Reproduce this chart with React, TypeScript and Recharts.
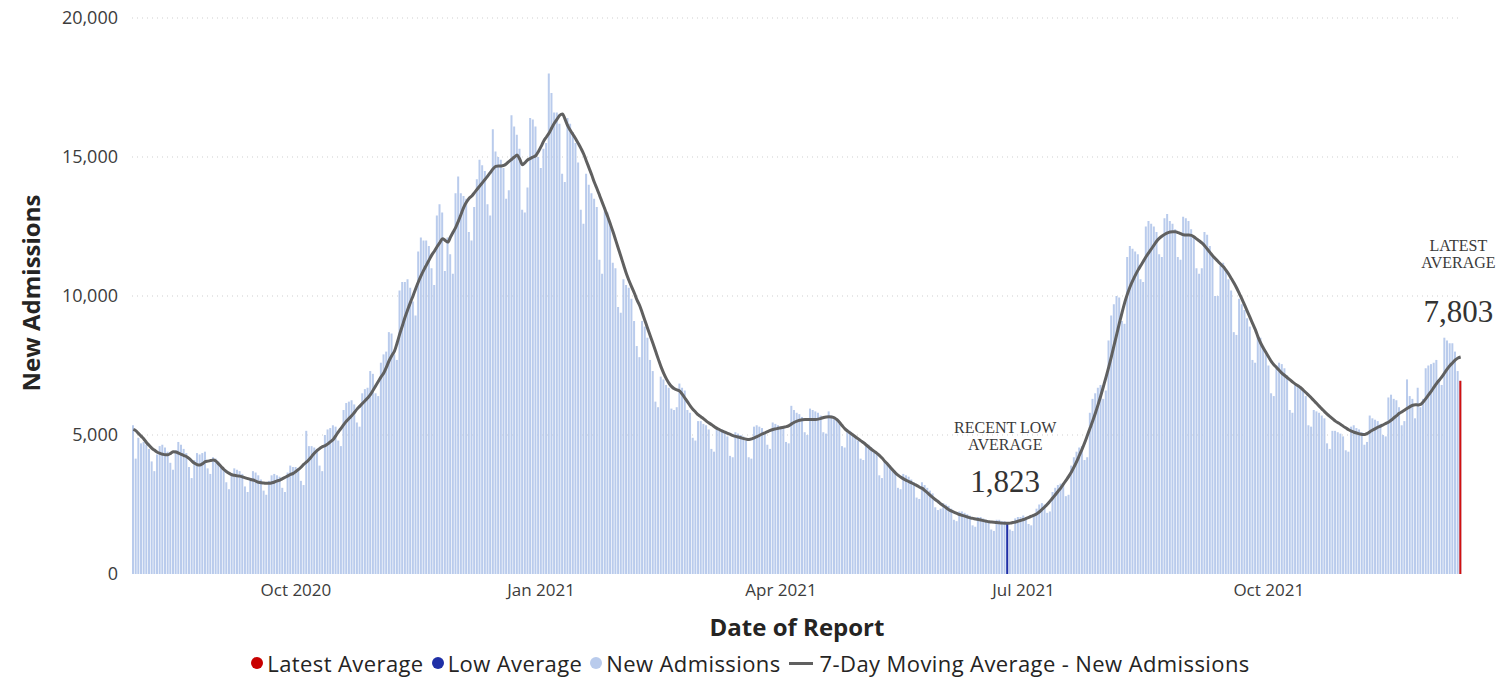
import React from "react";
import { ComposedChart, Bar, Line, XAxis, YAxis, CartesianGrid, LabelList, Label, Cell } from "recharts";

// new admissions per day, one array per month (Aug 2020 .. Dec 2021)
const aug20 = [5350, 4150, 4900, 4700, 4750, 4650, 4500, 4050, 3700, 4300, 4600, 4650, 4550, 4400, 4000, 3750, 4450, 4750, 4650, 4500, 4350, 3850, 3450, 4100, 4350, 4300, 4350, 4400, 3800, 3600, 4200];
const sep20 = [4150, 4050, 3900, 3750, 3300, 3050, 3600, 3800, 3750, 3700, 3600, 3150, 2950, 3450, 3700, 3650, 3550, 3400, 3000, 2850, 3350, 3550, 3600, 3550, 3500, 3100, 2950, 3650, 3900, 3850];
const oct20 = [3850, 3800, 3350, 3200, 5150, 4600, 4600, 4550, 4500, 3900, 3700, 5000, 5200, 5250, 5350, 5300, 4800, 4600, 5900, 6150, 6200, 6250, 6100, 5450, 5300, 6500, 6650, 6700, 7300, 7200, 6500];
const nov20 = [6400, 7600, 7900, 8000, 8700, 8650, 7900, 7700, 10200, 10500, 10500, 10600, 10300, 9800, 9300, 11600, 12100, 12000, 12000, 11800, 11000, 10400, 12900, 13300, 13000, 10900, 12100, 11500, 10800, 13700];
const dec20 = [14300, 13700, 13600, 13500, 12300, 12000, 13200, 14200, 14900, 14700, 14500, 13300, 12900, 16000, 15200, 15000, 14900, 14600, 13500, 13800, 16500, 16100, 15800, 15300, 13100, 13000, 13900, 16400, 16350, 16100, 15000];
const jan21 = [14600, 15300, 15500, 18000, 17300, 16600, 16600, 16200, 14400, 14100, 16400, 16200, 15900, 15500, 14800, 13100, 12600, 14400, 14000, 13700, 13500, 13200, 11300, 10800, 13200, 13000, 12600, 11200, 11000, 9600, 9400];
const feb21 = [10600, 10400, 10300, 9900, 9100, 8200, 7800, 9100, 8900, 8500, 7700, 7300, 6200, 6000, 7100, 7000, 6800, 6700, 5950, 5900, 6000, 6850, 6700, 6600, 5900, 5800, 4900, 4800];
const mar21 = [5500, 5500, 5400, 5350, 5200, 4500, 4400, 5250, 5200, 5200, 5100, 4950, 4250, 4200, 5100, 5050, 5000, 4950, 4800, 4200, 4150, 5300, 5350, 5300, 5250, 5100, 4650, 4500, 5450, 5400, 5350];
const apr21 = [5300, 5250, 4750, 4700, 6050, 5900, 5800, 5750, 5650, 5100, 5000, 5950, 5900, 5850, 5800, 5700, 5100, 5050, 5850, 5700, 5650, 5550, 5400, 4600, 4550, 5200, 5150, 5050, 4950, 4800];
const may21 = [4150, 4100, 4650, 4650, 4550, 4450, 4300, 3550, 3450, 4050, 4000, 3900, 3800, 3650, 3100, 3050, 3600, 3550, 3500, 3400, 3300, 2750, 2700, 3300, 3200, 3100, 3000, 2900, 2400, 2300, 2350];
const jun21 = [2550, 2500, 2450, 2350, 1950, 1900, 2250, 2250, 2200, 2150, 2100, 1750, 1700, 2050, 2050, 2000, 1950, 1900, 1600, 1550, 1950, 1950, 1900, 1900, 1850, 1600, 1550, 2000, 2050, 2050];
const jul21 = [2100, 2050, 1800, 1750, 2100, 2350, 2500, 2550, 2500, 2200, 2250, 2950, 3100, 3200, 3250, 3200, 2800, 2850, 3900, 4200, 4400, 4550, 4600, 4100, 4200, 5800, 6300, 6500, 6700, 6800, 6300];
const aug21 = [6600, 8400, 9300, 9700, 10000, 9950, 9100, 9000, 11400, 11800, 11700, 11600, 11500, 10600, 10500, 12500, 12700, 12600, 12500, 12300, 11500, 11400, 12800, 12950, 12700, 12600, 12400, 11400, 11300, 12850, 12800];
const sep21 = [12700, 12400, 12100, 11000, 10800, 11000, 12300, 12200, 11800, 11400, 10000, 10000, 11100, 11200, 10900, 10600, 10200, 8700, 8600, 9900, 9700, 9500, 9200, 8900, 7700, 7600, 8600, 8500, 8200, 7900];
const oct21 = [7500, 6500, 6400, 7500, 7600, 7550, 7400, 7150, 5900, 5800, 6800, 6800, 6700, 6600, 6400, 5350, 5300, 5900, 5850, 5800, 5700, 5600, 4700, 4500, 5150, 5150, 5100, 5050, 4950, 4450, 4400];
const nov21 = [5300, 5350, 5250, 5200, 5100, 4650, 4750, 5700, 5600, 5550, 5500, 5400, 5000, 4950, 6350, 6450, 6300, 6250, 6000, 5350, 5500, 7000, 6400, 6300, 5600, 6700, 6000, 6300, 7400, 7500];
const dec21 = [7550, 7600, 7700, 7000, 6800, 8500, 8400, 8300, 8300, 8000, 7300, 6950];

// 7-day moving average, same months
const avgAug20 = [5200, 5150, 5050, 4950, 4850, 4720, 4620, 4520, 4450, 4380, 4340, 4310, 4290, 4290, 4340, 4400, 4390, 4350, 4300, 4260, 4220, 4150, 4060, 3980, 3930, 3920, 3970, 4040, 4060, 4080, 4100];
const avgSep20 = [4060, 3960, 3860, 3760, 3680, 3620, 3570, 3550, 3530, 3520, 3490, 3460, 3430, 3400, 3380, 3340, 3300, 3280, 3270, 3260, 3260, 3280, 3310, 3350, 3380, 3430, 3480, 3530, 3580, 3620];
const avgOct20 = [3690, 3760, 3850, 3950, 4030, 4130, 4240, 4350, 4450, 4520, 4580, 4620, 4680, 4760, 4840, 4980, 5120, 5250, 5380, 5500, 5600, 5700, 5820, 5940, 6040, 6140, 6240, 6340, 6460, 6620, 6780];
const avgNov20 = [6940, 7100, 7240, 7450, 7680, 7860, 8020, 8320, 8650, 8950, 9250, 9520, 9780, 10020, 10280, 10520, 10740, 10940, 11120, 11300, 11480, 11620, 11780, 11920, 12060, 12000, 11940, 12120, 12300, 12480];
const avgDec20 = [12700, 12950, 13200, 13380, 13520, 13600, 13720, 13840, 13960, 14080, 14200, 14320, 14450, 14580, 14660, 14680, 14680, 14700, 14760, 14840, 14920, 15000, 15070, 14920, 14720, 14800, 14900, 14950, 15000, 15050, 15200];
const avgJan21 = [15380, 15580, 15720, 15860, 16050, 16220, 16360, 16500, 16550, 16350, 16120, 15950, 15800, 15650, 15480, 15300, 15100, 14850, 14600, 14350, 14080, 13850, 13600, 13350, 13100, 12850, 12580, 12300, 12000, 11700, 11400];
const avgFeb21 = [11100, 10800, 10550, 10320, 10100, 9850, 9650, 9380, 9100, 8820, 8550, 8280, 8000, 7720, 7450, 7220, 7020, 6860, 6740, 6660, 6620, 6580, 6460, 6320, 6180, 6040, 5920, 5820];
const avgMar21 = [5720, 5650, 5580, 5500, 5430, 5370, 5300, 5240, 5190, 5140, 5100, 5060, 5020, 4980, 4950, 4930, 4900, 4870, 4850, 4840, 4860, 4900, 4940, 4990, 5040, 5080, 5120, 5170, 5200, 5220, 5240];
const avgApr21 = [5260, 5280, 5300, 5340, 5400, 5460, 5500, 5530, 5550, 5560, 5560, 5560, 5560, 5560, 5570, 5600, 5630, 5650, 5660, 5650, 5620, 5550, 5450, 5330, 5220, 5140, 5070, 5000, 4930, 4860];
const avgMay21 = [4790, 4720, 4640, 4560, 4480, 4410, 4340, 4260, 4160, 4050, 3950, 3840, 3730, 3630, 3550, 3480, 3420, 3370, 3320, 3280, 3230, 3180, 3120, 3080, 3000, 2920, 2830, 2750, 2670, 2600, 2520];
const avgJun21 = [2450, 2380, 2310, 2260, 2220, 2180, 2140, 2110, 2080, 2050, 2020, 2000, 1980, 1960, 1940, 1920, 1900, 1880, 1870, 1860, 1850, 1840, 1830, 1825, 1823, 1830, 1850, 1870, 1900, 1930];
const avgJul21 = [1960, 2000, 2040, 2080, 2120, 2170, 2240, 2330, 2420, 2520, 2630, 2740, 2860, 2980, 3100, 3240, 3380, 3520, 3680, 3860, 4060, 4280, 4500, 4740, 5000, 5260, 5520, 5800, 6100, 6420, 6760];
const avgAug21 = [7100, 7460, 7840, 8240, 8640, 9040, 9420, 9780, 10080, 10340, 10560, 10760, 10940, 11100, 11260, 11420, 11560, 11700, 11840, 11980, 12080, 12160, 12220, 12270, 12300, 12310, 12310, 12280, 12240, 12200, 12190];
const avgSep21 = [12190, 12180, 12120, 12050, 11980, 11900, 11800, 11680, 11560, 11440, 11340, 11240, 11140, 11050, 10920, 10780, 10620, 10460, 10280, 10080, 9880, 9660, 9440, 9220, 9000, 8780, 8520, 8300, 8120, 7960];
const avgOct21 = [7800, 7640, 7520, 7420, 7320, 7220, 7140, 7060, 6980, 6900, 6830, 6770, 6700, 6610, 6520, 6430, 6330, 6230, 6130, 6030, 5930, 5830, 5740, 5660, 5580, 5500, 5440, 5380, 5310, 5250, 5190];
const avgNov21 = [5140, 5100, 5070, 5040, 5020, 5020, 5060, 5120, 5180, 5230, 5280, 5320, 5370, 5420, 5470, 5540, 5620, 5700, 5780, 5840, 5900, 5960, 6020, 6070, 6090, 6080, 6100, 6200, 6320, 6450];
const avgDec21 = [6580, 6720, 6860, 6980, 7100, 7240, 7380, 7500, 7600, 7700, 7770, 7803];

const firstDay = "2020-08-01";
const tickDates = ["2020-10-01", "2021-01-01", "2021-04-01", "2021-07-01", "2021-10-01"];
const tickLabels = ["Oct 2020", "Jan 2021", "Apr 2021", "Jul 2021", "Oct 2021"];
const yTicks = [0, 5000, 10000, 15000, 20000];

// highlighted days: recent low average and latest average
const notes = [
  { date: "2021-06-25", bar: 1823, color: "#1f2fa6", caption: ["RECENT LOW", "AVERAGE"], value: "1,823", capY: -90, valY: -31 },
  { date: "2021-12-12", bar: 6950, color: "#d01010", caption: ["LATEST", "AVERAGE"], value: "7,803", capY: -130, valY: -59 },
];

const SANS = "'Open Sans', 'Noto Sans', sans-serif";
const SERIF = "'Liberation Serif', 'DejaVu Serif', serif";

const admissions = [aug20, sep20, oct20, nov20, dec20, jan21, feb21, mar21, apr21, may21, jun21, jul21, aug21, sep21, oct21, nov21, dec21].flat();
const average = [avgAug20, avgSep20, avgOct20, avgNov20, avgDec20, avgJan21, avgFeb21, avgMar21, avgApr21, avgMay21, avgJun21, avgJul21, avgAug21, avgSep21, avgOct21, avgNov21, avgDec21].flat();

const start = Date.parse(firstDay + "T00:00:00Z");
const data = admissions.map((v, i) => {
  const date = new Date(start + i * 86400000).toISOString().slice(0, 10);
  const note = notes.find((n) => n.date === date);
  return { date, admissions: v, average: average[i], marker: note ? note.bar : null };
});

const renderNote = (p: any) => {
  if (p.value == null) return null;
  const note = notes.find((n) => n.bar === p.value);
  if (!note) return null;
  const cx = p.x + p.width / 2 - 2;
  const top = p.y;
  return (
    <g>
      <text x={cx} y={top + note.capY} textAnchor="middle" fontFamily={SERIF} fontSize={16} fill="#3a3a3a">
        {note.caption[0]}
      </text>
      <text x={cx} y={top + note.capY + 17} textAnchor="middle" fontFamily={SERIF} fontSize={16} fill="#3a3a3a">
        {note.caption[1]}
      </text>
      <text x={cx} y={top + note.valY} textAnchor="middle" fontFamily={SERIF} fontSize={31} fill="#333">
        {note.value}
      </text>
    </g>
  );
};

const legendItems = [
  { label: "Latest Average", color: "#c80000", kind: "dot" },
  { label: "Low Average", color: "#1f2fa6", kind: "dot" },
  { label: "New Admissions", color: "#b9cbec", kind: "dot" },
  { label: "7-Day Moving Average - New Admissions", color: "#606060", kind: "line" },
];

export default function App() {
  return (
    <div style={{ position: "absolute", left: 0, top: 0, width: 1509, height: 677, background: "#fff", fontFamily: SANS }}>
      <ComposedChart width={1509} height={677} data={data} margin={{ top: 18, right: 47, bottom: 73, left: 0 }}>
        <CartesianGrid xAxisId="days" vertical={false} horizontalValues={[5000, 10000, 15000, 20000]} stroke="#cfcfcf" strokeDasharray="1 4" />
        <XAxis
          xAxisId="days"
          dataKey="date"
          ticks={tickDates}
          interval={0}
          tickFormatter={(d) => tickLabels[tickDates.indexOf(d)] ?? ""}
          axisLine={false}
          tickLine={false}
          tickMargin={4}
          height={30}
          tick={{ fill: "#3c3c3c", fontSize: 17, fontFamily: SANS }}
        >
          <Label
            content={({ viewBox }: any) => (
              <text x={viewBox.x + viewBox.width / 2} y={viewBox.y + 62} textAnchor="middle" fontFamily={SANS} fontWeight={700} fontSize={24} fill="#252423">
                Date of Report
              </text>
            )}
          />
        </XAxis>
        <XAxis xAxisId="marks" dataKey="date" hide />
        <YAxis
          domain={[0, 20000]}
          ticks={yTicks}
          tickFormatter={(v) => v.toLocaleString("en-US")}
          axisLine={false}
          tickLine={false}
          width={132}
          tickMargin={8}
          tick={{ fill: "#3c3c3c", fontSize: 18, fontFamily: SANS }}
        >
          <Label
            content={({ viewBox }: any) => {
              const x = 30;
              const y = viewBox.y + viewBox.height / 2 - 3;
              return (
                <text x={x} y={y} transform={`rotate(-90 ${x} ${y})`} textAnchor="middle" dominantBaseline="central" fontFamily={SANS} fontWeight={700} fontSize={24} fill="#252423">
                  New Admissions
                </text>
              );
            }}
          />
        </YAxis>
        <Bar xAxisId="days" dataKey="admissions" fill="#b9cbec" barSize={2} isAnimationActive={false} />
        <Bar xAxisId="marks" dataKey="marker" barSize={2} isAnimationActive={false}>
          {data.map((d) => {
            const note = notes.find((n) => n.date === d.date);
            return <Cell key={d.date} fill={note ? note.color : "transparent"} />;
          })}
          <LabelList dataKey="marker" content={renderNote} />
        </Bar>
        <Line xAxisId="days" dataKey="average" type="monotone" stroke="#606060" strokeWidth={3} dot={false} isAnimationActive={false} />
      </ComposedChart>
      <div style={{ position: "absolute", left: 0, width: 1509, top: 648, display: "flex", justifyContent: "center", alignItems: "center", fontSize: 22, color: "#252423", whiteSpace: "nowrap", letterSpacing: 0.4 }}>
        {legendItems.map((it) => (
          <span key={it.label} style={{ display: "inline-flex", alignItems: "center", marginRight: 8 }}>
            {it.kind === "dot" ? (
              <span style={{ width: 12, height: 12, borderRadius: 6, background: it.color, marginRight: 4, display: "inline-block" }} />
            ) : (
              <span style={{ width: 24, height: 3, background: it.color, marginRight: 7, display: "inline-block" }} />
            )}
            {it.label}
          </span>
        ))}
      </div>
    </div>
  );
}
